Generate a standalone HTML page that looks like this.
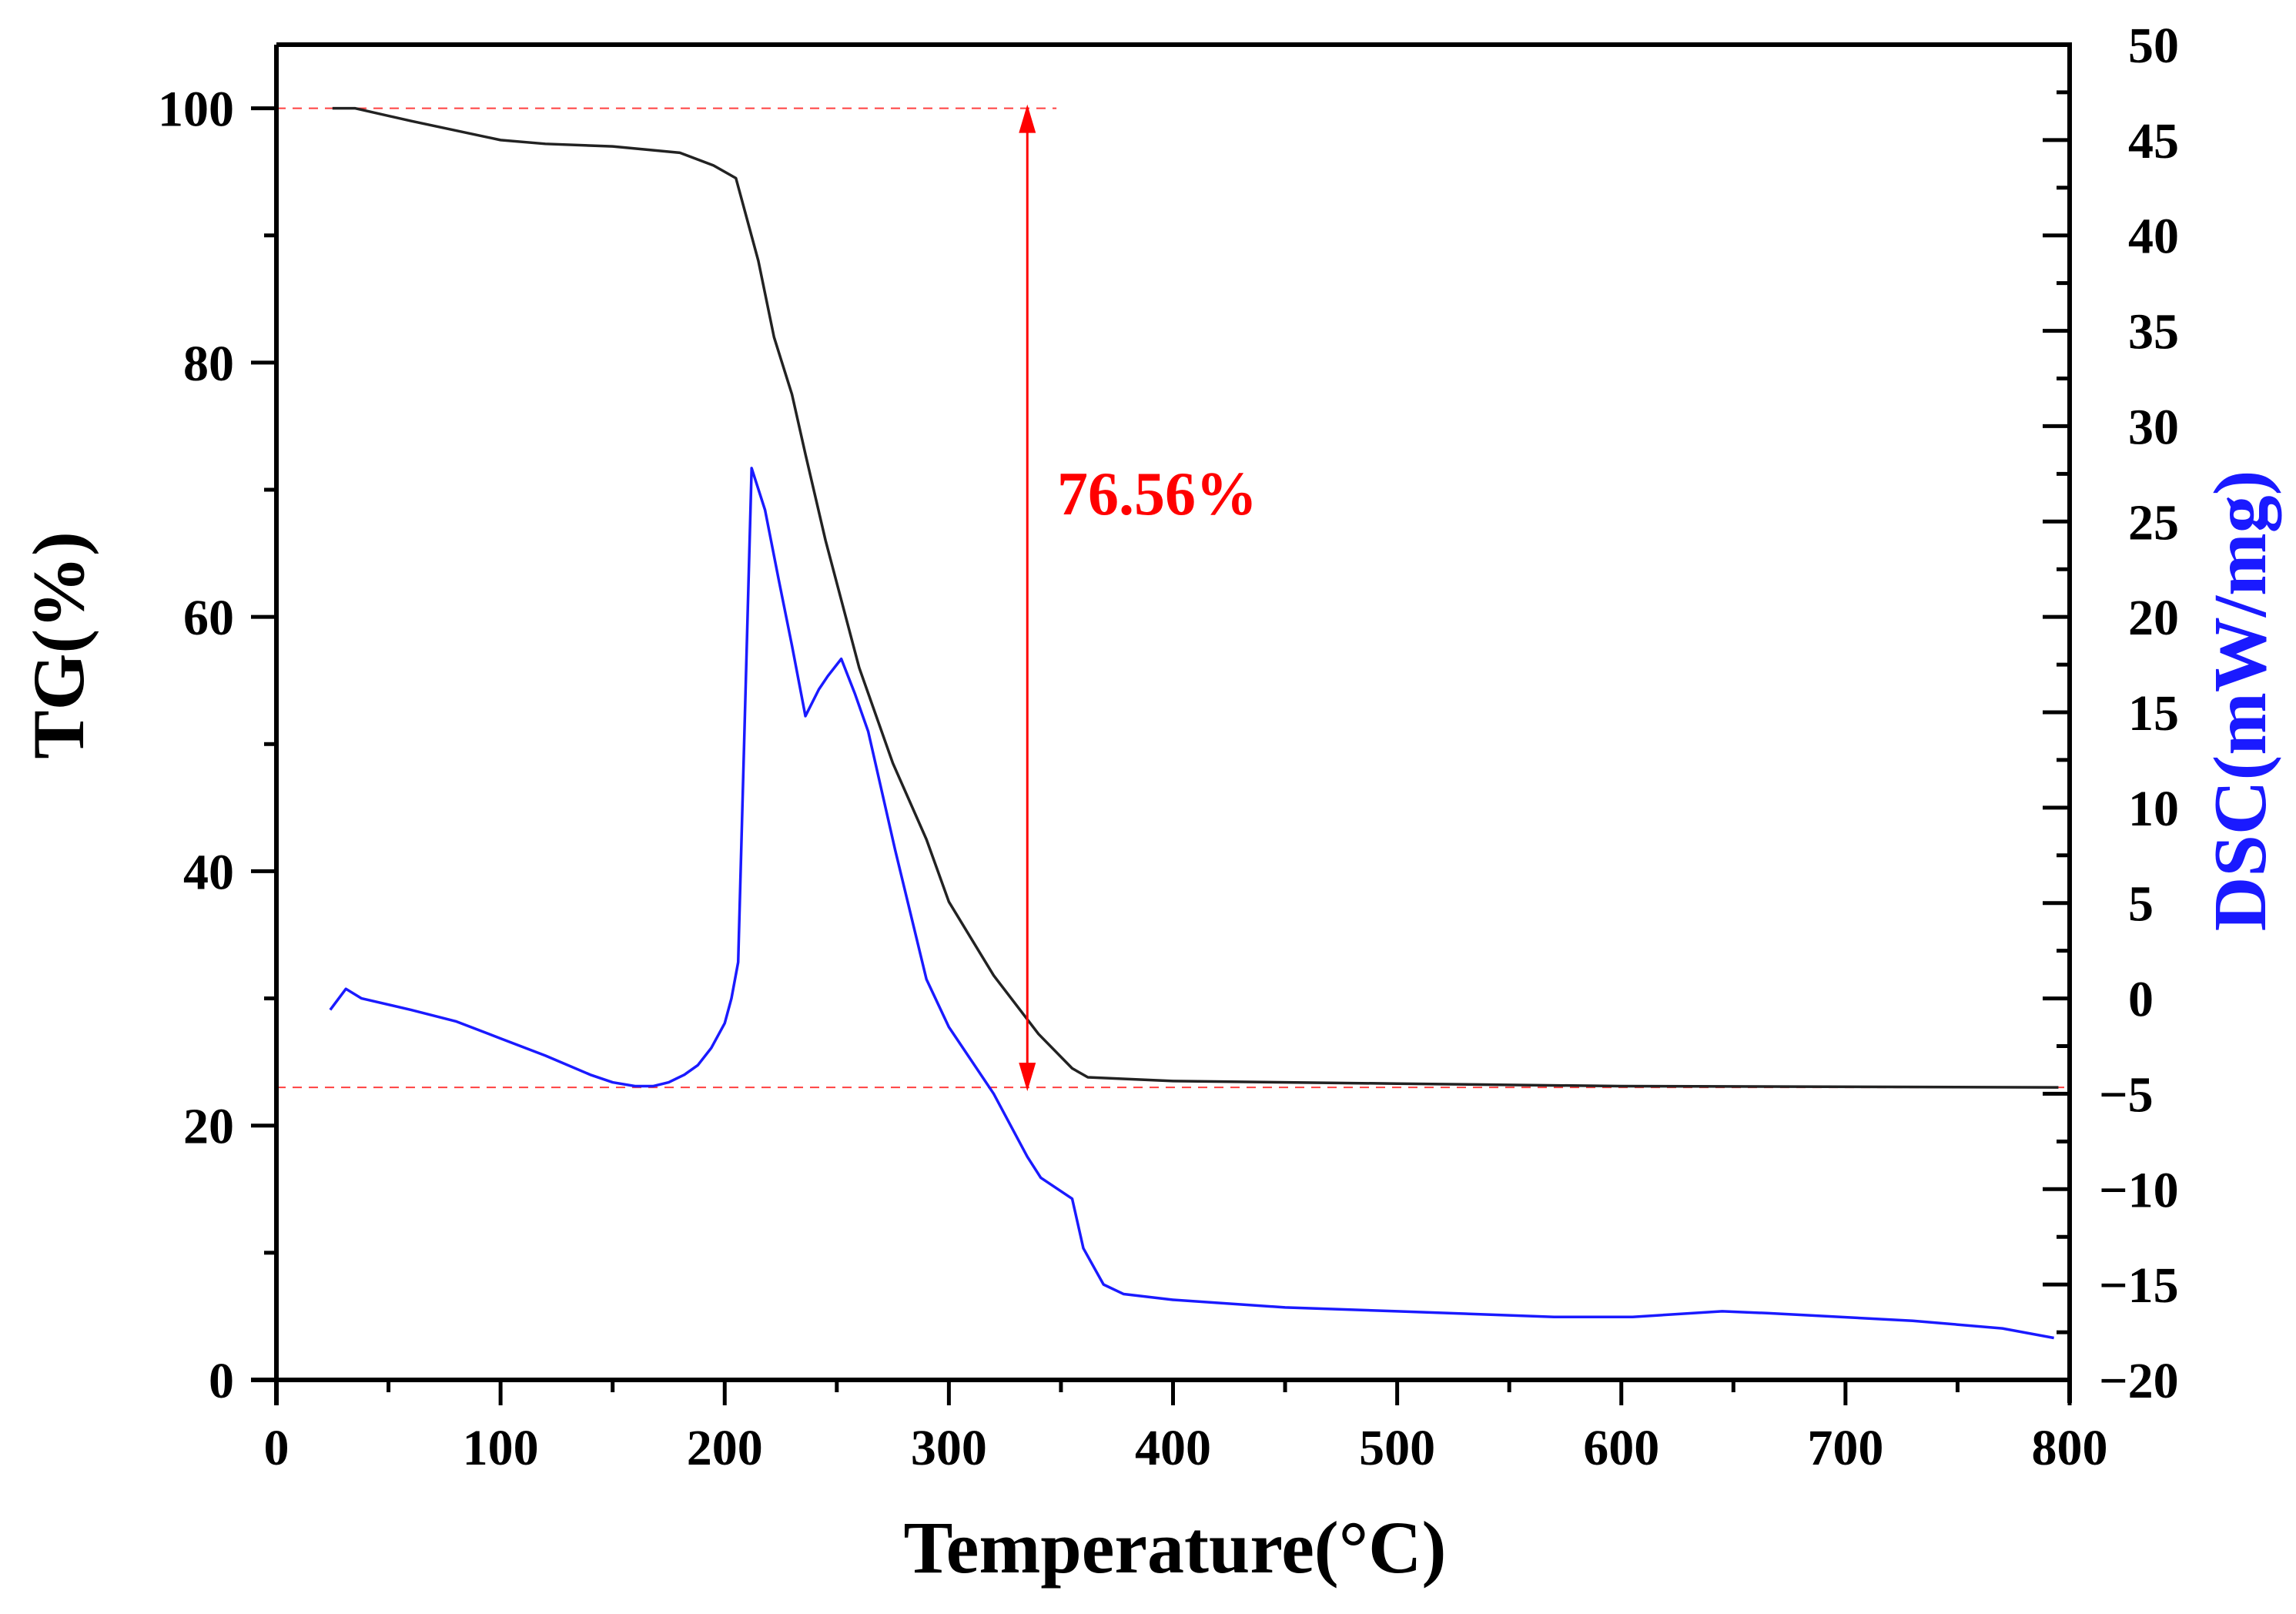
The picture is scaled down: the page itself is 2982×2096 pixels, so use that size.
<!DOCTYPE html>
<html><head><meta charset="utf-8"><style>
html,body{margin:0;padding:0;background:#fff}
svg{display:block}
text{font-family:"Liberation Serif",serif;font-weight:bold}
</style></head><body>
<svg id="chart" width="2982" height="2096" viewBox="0 0 2982 2096" xmlns="http://www.w3.org/2000/svg">
<rect width="2982" height="2096" fill="#fff"/>
<g id="marks"></g>
<g id="axes"></g>
<text x="1526" y="2042" font-size="96" text-anchor="middle">Temperature(°C)</text>
<text transform="translate(108,838) rotate(-90)" font-size="95" text-anchor="middle">TG(%)</text>
<text transform="translate(2942,910) rotate(-90)" font-size="98" text-anchor="middle" fill="#1a1aff">DSC(mW/mg)</text>
<text x="1373" y="668" font-size="80" fill="#ff0000">76.56%</text>
</svg>
<script>
const tgTemps=[25,35,60,100,120,150,180,195,205,215,222,230,236,245,260,275,290,300,320,340,355,362,400,500,600,795];
const tgValues=[100,100,99,97.5,97.2,97,96.5,95.5,94.5,88,82,77.5,72.8,66,56,48.5,42.5,37.6,31.8,27.2,24.5,23.8,23.5,23.3,23.1,23.0];
const dscTemps=[24,31,38,60,80,100,120,140,150,160,168,175,182,188,194,200,203,206,212,218,224,230,236,242,246,252,258,264,276,290,300,320,335,341,355,360,369,378,400,450,500,570,605,645,665,730,770,793];
const dscValues=[-0.6,0.5,0,-0.6,-1.2,-2.1,-3.0,-4.0,-4.4,-4.6,-4.6,-4.4,-4.0,-3.5,-2.6,-1.3,0,1.9,27.8,25.6,22,18.5,14.8,16.2,16.9,17.8,16.0,14.0,7.8,1,-1.5,-5,-8.3,-9.4,-10.5,-13.1,-15.0,-15.5,-15.8,-16.2,-16.4,-16.7,-16.7,-16.4,-16.5,-16.9,-17.3,-17.8];
const xTicks=[0,100,200,300,400,500,600,700,800];
const tgTicks=[0,20,40,60,80,100];
const dscTicks=[-20,-15,-10,-5,0,5,10,15,20,25,30,35,40,45,50];
const lossStart=100, lossEnd=23, lossTemp=335;

const L=359,R=2688,T=58,B=1792;
const NS="http://www.w3.org/2000/svg";
const X=v=>L+(v-0)/800*(R-L);
const Y1=v=>B-(v-0)/105*(B-T);
const Y2=v=>B-(v+20)/70*(B-T);
const marks=document.getElementById('marks'), axes=document.getElementById('axes');
function el(tag,attrs,parent){const e=document.createElementNS(NS,tag);for(const k in attrs)e.setAttribute(k,attrs[k]);parent.appendChild(e);return e;}

let d1=el('line',{x1:L,x2:X(348),y1:Y1(lossStart),y2:Y1(lossStart),stroke:'#ff4040','stroke-width':2,'stroke-dasharray':'12,9'},marks);


let d2=el('line',{x1:L,x2:R,y1:Y1(lossEnd),y2:Y1(lossEnd),stroke:'#ff4040','stroke-width':2,'stroke-dasharray':'12,9'},marks);



let p1=el('polyline',{points:tgTemps.map((t,i)=>X(t)+','+Y1(tgValues[i])).join(' '),fill:'none',stroke:'#222','stroke-width':3.5,'stroke-linejoin':'round'},marks);


let p2=el('polyline',{points:dscTemps.map((t,i)=>X(t)+','+Y2(dscValues[i])).join(' '),fill:'none',stroke:'#1a1aff','stroke-width':3.5,'stroke-linejoin':'round'},marks);



const ax=X(lossTemp), ay1=Y1(lossStart), ay2=Y1(lossEnd);
let ar=el('line',{x1:ax,x2:ax,y1:ay1+20,y2:ay2-20,stroke:'#ff0000','stroke-width':3},marks);


let h1=el('polygon',{points:`${ax},${ay1-5} ${ax-11},${ay1+32} ${ax+11},${ay1+32}`,fill:'#ff0000'},marks);


let h2=el('polygon',{points:`${ax},${ay2+5} ${ax-11},${ay2-32} ${ax+11},${ay2-32}`,fill:'#ff0000'},marks);



let fr=el('path',{d:`M${L},${T} H${R} V${B+30} M${R},${B} H${L-33} M${L},${T} V${B+33}`,fill:'none',stroke:'#000','stroke-width':6},axes);



xTicks.forEach((v,i)=>{
  const x=X(v);
  let t=el('line',{x1:x,x2:x,y1:B,y2:B+33,stroke:'#000','stroke-width':5},axes);
  
  
  if(i<xTicks.length-1){const m=X(v+50);let mt=el('line',{x1:m,x2:m,y1:B,y2:B+16,stroke:'#000','stroke-width':5},axes);
  
  }
  let lb=el('text',{x:x,y:1902,'font-size':66,'text-anchor':'middle'},axes);lb.textContent=v;
  
  
});
tgTicks.forEach((v,i)=>{
  const y=Y1(v);
  let t=el('line',{x1:L-33,x2:L,y1:y,y2:y,stroke:'#000','stroke-width':5},axes);
  
  
  const m=Y1(v+10);let mt=el('line',{x1:L-16,x2:L,y1:m,y2:m,stroke:'#000','stroke-width':5},axes);
  
  
  let lb=el('text',{x:304,y:y+23,'font-size':66,'text-anchor':'end'},axes);lb.textContent=v;
  
  
});
dscTicks.forEach((v,i)=>{
  const y=Y2(v);
  let t=el('line',{x1:R-35,x2:R,y1:y,y2:y,stroke:'#000','stroke-width':5},axes);
  
  
  if(i<dscTicks.length-1){const m=Y2(v+2.5);let mt=el('line',{x1:R-17,x2:R,y1:m,y2:m,stroke:'#000','stroke-width':5},axes);
  
  }
  let lb=el('text',{x:v<0?2726:2764,y:y+23,'font-size':66,'text-anchor':'start'},axes);lb.textContent=v<0?'\u2212'+(-v):v;
  
  
});
</script>
</body></html>
